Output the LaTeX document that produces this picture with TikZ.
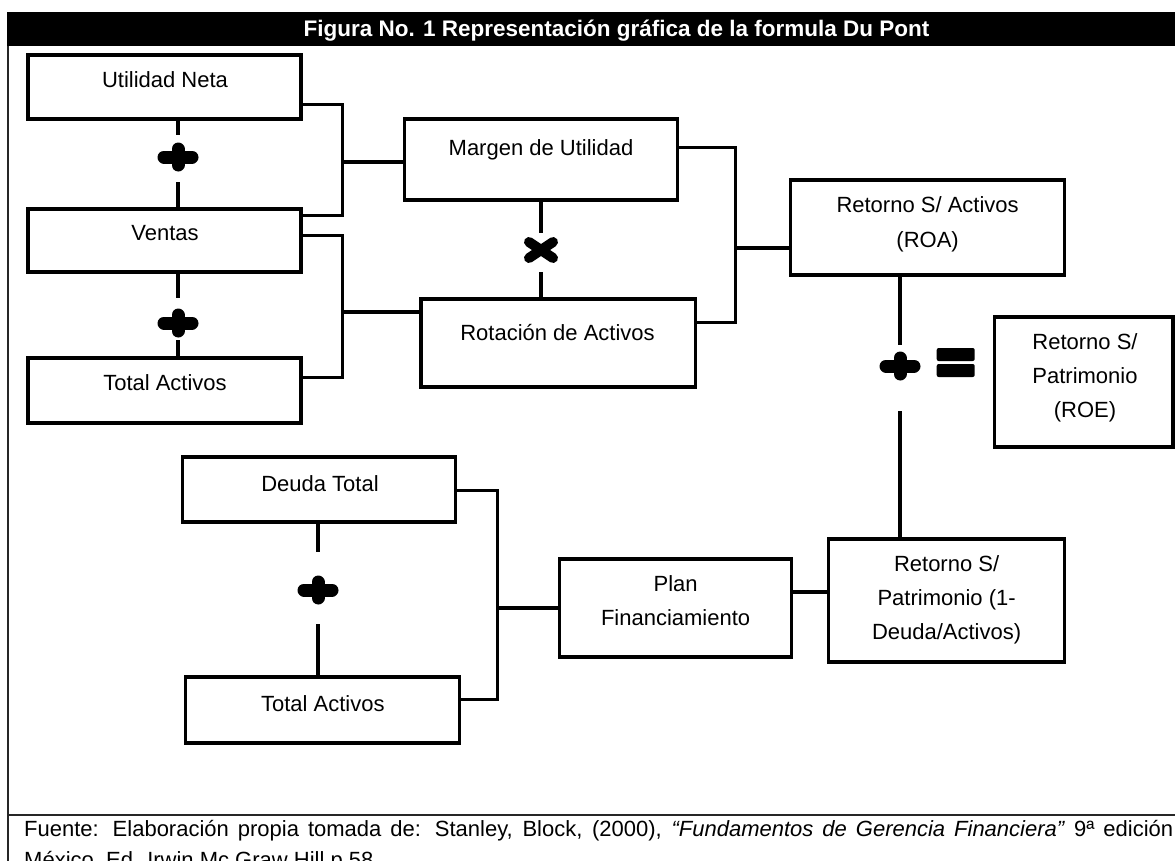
\documentclass[tikz,border=0pt]{standalone}
\usepackage{fontspec}
\setmainfont{Liberation Sans}
\newcommand\drawplus[1]{\fill ([xshift=-14pt]#1.center) circle[radius=0pt];
  \draw[symline] ([xshift=-14pt]#1.center) -- ([xshift=14pt]#1.center)
                 ([yshift=-8pt]#1.center) -- ([yshift=8pt]#1.center);}
\begin{document}
\begin{tikzpicture}[x=1pt,y=-1pt,
  box/.style={draw=black, line width=3.2pt, inner sep=0pt},
  lbl/.style={font=\fontsize{22}{34}\selectfont, inner sep=0pt, align=center, text=black},
  conn/.style={draw=black, line width=3.2pt},
  sym/.style={inner sep=0pt, outer sep=0pt},
  symline/.style={draw=black, line width=13pt, line cap=round},
  frame/.style={draw=black!85, line width=1.8pt}]
\useasboundingbox (0,0) rectangle (1175,860);
\fill[white] (0,0) rectangle (1175,860);

% title bar and frame
\fill[black] (7,12) rectangle (1176,46);
\node[anchor=base, text=white, inner sep=0pt, font=\fontsize{22.5}{27}\selectfont\bfseries] (title) at (616.5,36) {Figura No. 1 Representación gráfica de la formula Du Pont};
\draw[frame] (8,46) -- (8,861);
\draw[frame] (8,815) -- (1176,815);

% boxes
\node[box, minimum width=273pt, minimum height=64pt] (un) at (164.5,87) {};
\node[box, minimum width=273pt, minimum height=63pt] (ventas) at (164.5,240.5) {};
\node[box, minimum width=273pt, minimum height=65pt] (ta1) at (164.5,390.5) {};
\node[box, minimum width=273pt, minimum height=81pt] (margen) at (541,159.5) {};
\node[box, minimum width=274.7pt, minimum height=88pt] (rot) at (558.35,343) {};
\node[box, minimum width=274pt, minimum height=95pt] (roa) at (927.6,227.5) {};
\node[box, minimum width=178.2pt, minimum height=130pt] (roe) at (1083.9,382) {};
\node[box, minimum width=272.9pt, minimum height=65pt] (dt) at (318.95,489.5) {};
\node[box, minimum width=273.6pt, minimum height=66pt] (ta2) at (322.4,710) {};
\node[box, minimum width=232.3pt, minimum height=98pt] (plan) at (675.65,608) {};
\node[box, minimum width=236pt, minimum height=123pt] (ret1) at (946.6,600.5) {};

% labels
\node[lbl, anchor=base] (unT) at (165,87) {Utilidad Neta};
\node[lbl, anchor=base] (venT) at (165,240) {Ventas};
\node[lbl, anchor=base] (ta1T) at (165,390) {Total Activos};
\node[lbl, anchor=base] (marT) at (541,155) {Margen de Utilidad};
\node[lbl, anchor=base] (rotT) at (557.5,340) {Rotación de Activos};
\node[lbl, anchor=north, font=\fontsize{22}{35}\selectfont] (roaT) at (927.6,196) {Retorno S/ Activos\\(ROA)};
\node[lbl, anchor=north] (roeT) at (1085,333) {Retorno S/\\Patrimonio\\(ROE)};
\node[lbl, anchor=base] (dtT) at (320,491) {Deuda Total};
\node[lbl, anchor=base] (ta2T) at (322.8,711) {Total Activos};
\node[lbl, anchor=north] (planT) at (675.6,575) {Plan\\Financiamiento};
\node[lbl, anchor=north] (ret1T) at (946.6,555) {Retorno S/\\Patrimonio (1-\\Deuda/Activos)};

% operator symbols
\node[sym, minimum width=41pt, minimum height=29pt] (p1) at (178,157) {};
\node[sym, minimum width=41pt, minimum height=28pt] (p2) at (178,323) {};
\node[sym, minimum width=35pt, minimum height=26pt] (x1) at (541,250) {};
\node[sym, minimum width=41pt, minimum height=28pt] (p3) at (900,366) {};
\node[sym, minimum width=38pt, minimum height=29pt] (eq) at (955.7,362.5) {};
\node[sym, minimum width=41pt, minimum height=30pt] (p4) at (318,590) {};
\drawplus{p1}
\drawplus{p2}
\drawplus{p3}
\drawplus{p4}
\draw[draw=black, line width=10pt, line cap=round]
  ([xshift=-12pt,yshift=-8pt]x1.center) -- ([xshift=12pt,yshift=8pt]x1.center)
  ([xshift=-12pt,yshift=8pt]x1.center) -- ([xshift=12pt,yshift=-8pt]x1.center);
\fill[black, rounded corners=2pt] ([xshift=-19pt,yshift=14.5pt]eq.center) rectangle ([xshift=19pt,yshift=1.5pt]eq.center);
\fill[black, rounded corners=2pt] ([xshift=-19pt,yshift=-1.5pt]eq.center) rectangle ([xshift=19pt,yshift=-14.5pt]eq.center);

% vertical connectors through the operators
\draw[conn] (un.south -| p1) -- ([yshift=7.5pt]p1.north);
\draw[conn] ([yshift=-10.5pt]p1.south) -- (ventas.north -| p1);
\draw[conn] (ventas.south -| p2) -- ([yshift=11pt]p2.north);
\draw[conn] ([yshift=-3pt]p2.south) -- (ta1.north -| p2);
\draw[conn] (margen.south -| x1) -- ([yshift=4pt]x1.north);
\draw[conn] ([yshift=-9pt]x1.south) -- (rot.north -| x1);
\draw[conn] (roa.south -| p3) -- ([yshift=7pt]p3.north);
\draw[conn] ([yshift=-31pt]p3.south) -- (ret1.north -| p3);
\draw[conn] (dt.south -| p4) -- ([yshift=23pt]p4.north);
\draw[conn] ([yshift=-19pt]p4.south) -- (ta2.north -| p4);

% bracket connectors
\coordinate (jA) at (342.5,0);
\coordinate (jB) at (735.6,0);
\coordinate (jC) at (497.5,0);
\coordinate (v1) at ([yshift=-8pt]ventas.north east);
\draw[conn] ([yshift=16pt]un.south east) -| (v1 -| jA) -- (v1);
\coordinate (m1) at ([yshift=-2.5pt]margen.west);
\draw[conn] (m1) -- (m1 -| jA);
\coordinate (t1) at ([yshift=-21pt]ta1.north east);
\draw[conn] ([yshift=-28pt]ventas.north east) -| (t1 -| jA) -- (t1);
\coordinate (r1) at ([yshift=31pt]rot.west);
\draw[conn] (r1) -- (r1 -| jA);
\coordinate (r2) at ([yshift=-25pt]rot.north east);
\draw[conn] ([yshift=-30pt]margen.north east) -| (r2 -| jB) -- (r2);
\coordinate (a1) at ([yshift=-20.5pt]roa.west);
\draw[conn] (a1) -- (a1 -| jB);
\coordinate (t2) at ([yshift=-24pt]ta2.north east);
\draw[conn] ([yshift=-35pt]dt.north east) -| (t2 -| jC) -- (t2);
\draw[conn] (plan.west) -- (plan.west -| jC);
\coordinate (pl1) at ([yshift=16pt]plan.east);
\draw[conn] (pl1) -- (pl1 -| ret1.west);

% source note
\node[anchor=base west, inner sep=0pt, font=\fontsize{22}{31}\selectfont] (src1) at (24,836)
  {\makebox[1149pt][s]{Fuente: Elaboración propia tomada de: Stanley, Block, (2000), \textit{“Fundamentos de Gerencia Financiera”} 9ª edición}};
\node[anchor=base west, inner sep=0pt, font=\fontsize{22}{31}\selectfont] (src2) at (24,867)
  {México, Ed. Irwin Mc Graw Hill p.58};
\end{tikzpicture}
\end{document}
